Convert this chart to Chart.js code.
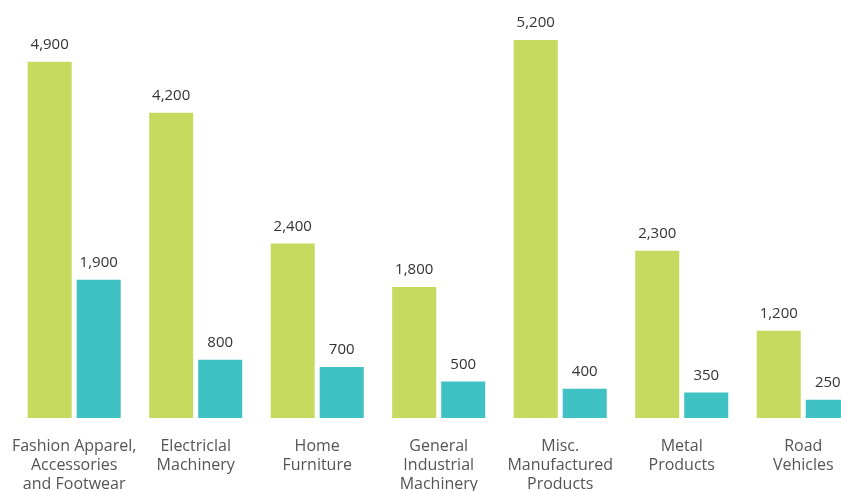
<!DOCTYPE html>
<html>
<head>
<meta charset="utf-8">
<script src="https://cdn.jsdelivr.net/npm/chart.js@4/dist/chart.umd.min.js"></script>
<style>
  html, body { margin: 0; padding: 0; background: #fff; overflow: hidden; }
  #wrap { position: relative; width: 864px; height: 505px; }
</style>
</head>
<body>
<div id="wrap"><canvas id="myChart"></canvas></div>
<script>
// categories and values
const categories = [
    ['Fashion Apparel,', 'Accessories', 'and Footwear'],
    ['Electriclal', 'Machinery'],
    ['Home', 'Furniture'],
    ['General', 'Industrial', 'Machinery'],
    ['Misc.', 'Manufactured', 'Products'],
    ['Metal', 'Products'],
    ['Road', 'Vehicles']
];
const greenValues = [4900, 4200, 2400, 1800, 5200, 2300, 1200];
const tealValues = [1900, 800, 700, 500, 400, 350, 250];

// draws the number above every bar
const valueLabels = {
    id: 'valueLabels',
    afterDatasetsDraw(chart)
    {
        const ctx = chart.ctx;
        ctx.save();
        ctx.font = '15px "Open Sans"';
        ctx.fillStyle = '#333333';
        ctx.textAlign = 'center';
        ctx.textBaseline = 'middle';
        chart.data.datasets.forEach(function(ds, i)
        {
            chart.getDatasetMeta(i).data.forEach(function(bar, j)
            {
                ctx.fillText(ds.data[j].toLocaleString('en-US'), bar.x, bar.y - 17);
            });
        });
        ctx.restore();
    }
};

const data = {
    labels: categories,
    datasets: [
        {
            label: 'Series 1',
            data: greenValues,
            backgroundColor: 'rgb(197, 218, 95)',
            categoryPercentage: 0.807,
            barPercentage: 0.898
        },
        {
            label: 'Series 2',
            data: tealValues,
            backgroundColor: 'rgb(64, 193, 196)',
            categoryPercentage: 0.807,
            barPercentage: 0.898
        }
    ]
};

const config = {
    type: 'bar',
    data: data,
    plugins: [valueLabels],
    options: {
        responsive: true,
        maintainAspectRatio: false,
        animation: false,
        devicePixelRatio: 1,
        layout: { padding: { left: 13, right: 0, top: 40, bottom: 0 } },
        plugins: {
            legend: { display: false },
            tooltip: { enabled: false }
        },
        scales: {
            x: {
                grid: { display: false },
                border: { display: false },
                ticks: {
                    color: '#555555',
                    padding: 11,
                    maxRotation: 0,
                    autoSkip: false,
                    font: { family: '"Open Sans"', size: 16, lineHeight: 1.19 }
                }
            },
            y: {
                display: false,
                min: 0,
                max: 5200
            }
        }
    }
};

const myChart = new Chart(document.getElementById('myChart'), config);
</script>
</body>
</html>
